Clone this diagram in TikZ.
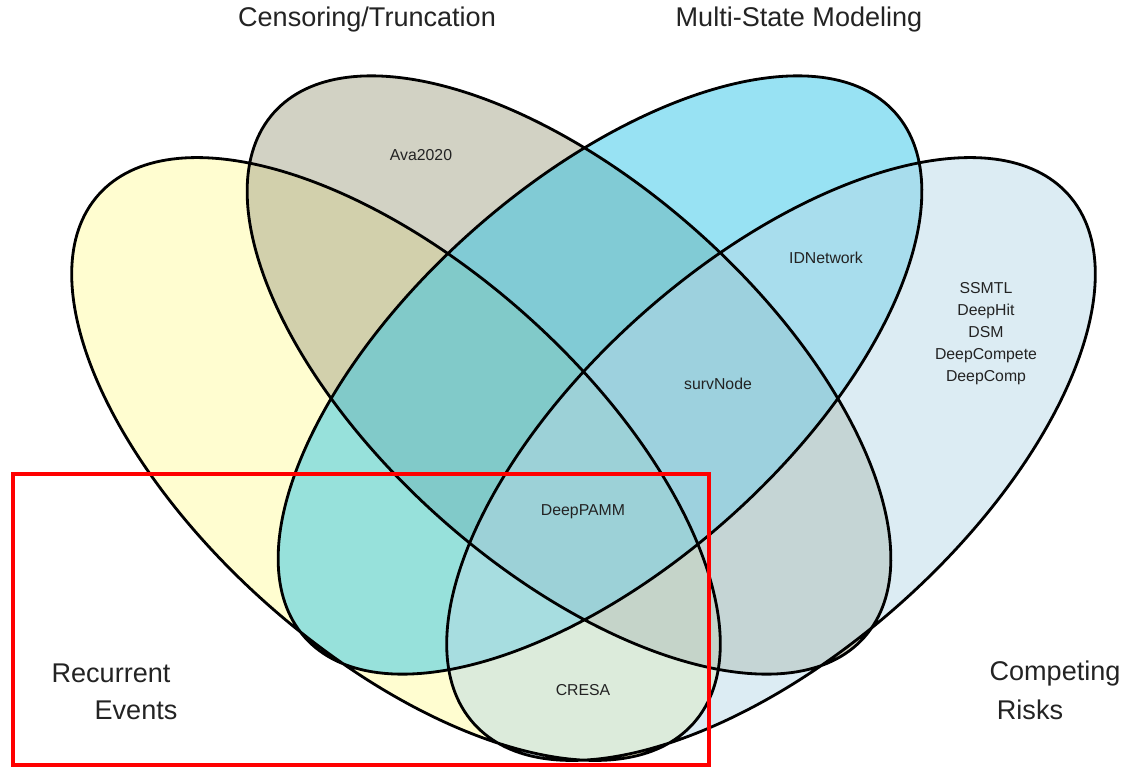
\documentclass[tikz,border=0pt]{standalone}
\usepackage{fontspec}
\setmainfont{Liberation Sans}

\def\recurrent{(396,310) circle [x radius=7.96cm, y radius=3.88cm, rotate=-41.6]}
\def\censoring{(569,394) circle [x radius=7.9cm, y radius=3.85cm, rotate=-41.6]}
\def\multistate{(600,394) circle [x radius=7.9cm, y radius=3.85cm, rotate=41.6]}
\def\competing{(771,310) circle [x radius=7.96cm, y radius=3.88cm, rotate=41.6]}
\definecolor{recurrent area}{RGB}{255,251,161}
\definecolor{censoring area}{RGB}{165,165,137}
\definecolor{multistate area}{RGB}{49,197,231}
\definecolor{competing area}{RGB}{185,217,231}
\definecolor{label text}{RGB}{35,35,35}
\tikzset{venn/.style={fill opacity=0.5},
    outline/.style={draw=black, line width=1.6pt},
    setname/.style={font=\fontsize{15.4}{18}\selectfont, text=label text},
    member/.style={font=\fontsize{9}{12.5}\selectfont, text=label text, align=center},
    highlight/.style={draw=red, line width=2.8pt}}

\begin{document}
\begin{tikzpicture}[x=0.02cm, y=0.02cm]
    \useasboundingbox (0,0) rectangle (1122,769);
    % the four sets, half transparent
    \fill[venn, recurrent area] \recurrent;
    \fill[venn, censoring area] \censoring;
    \fill[venn, multistate area] \multistate;
    \fill[venn, competing area] \competing;
    \draw[outline] \recurrent \censoring \multistate \competing;

    % set names
    \node[setname] (cens) at (367,749) {Censoring/Truncation};
    \node[setname] (multi) at (799,749) {Multi-State Modeling};
    \node[setname] (recur1) at (111,96) {Recurrent};
    \node[setname] (recur2) at (136,59) {Events};
    \node[setname] (comp1) at (1055,96) {Competing};
    \node[setname] (comp2) at (1030,59) {Risks};

    % methods in each region
    \node[member] (ava) at (421,614) {Ava2020};
    \node[member] (idnet) at (826,511) {IDNetwork};
    \node[member] (surv) at (718,385) {survNode};
    \node[member] (crlist) at (986,435) {SSMTL\\DeepHit\\DSM\\DeepCompete\\DeepComp};
    \node[member] (pamm) at (583,257) {DeepPAMM};
    \node[member] (cresa) at (583,79) {CRESA};

    \draw[highlight] (13,295) rectangle (709,4);
\end{tikzpicture}
\end{document}
